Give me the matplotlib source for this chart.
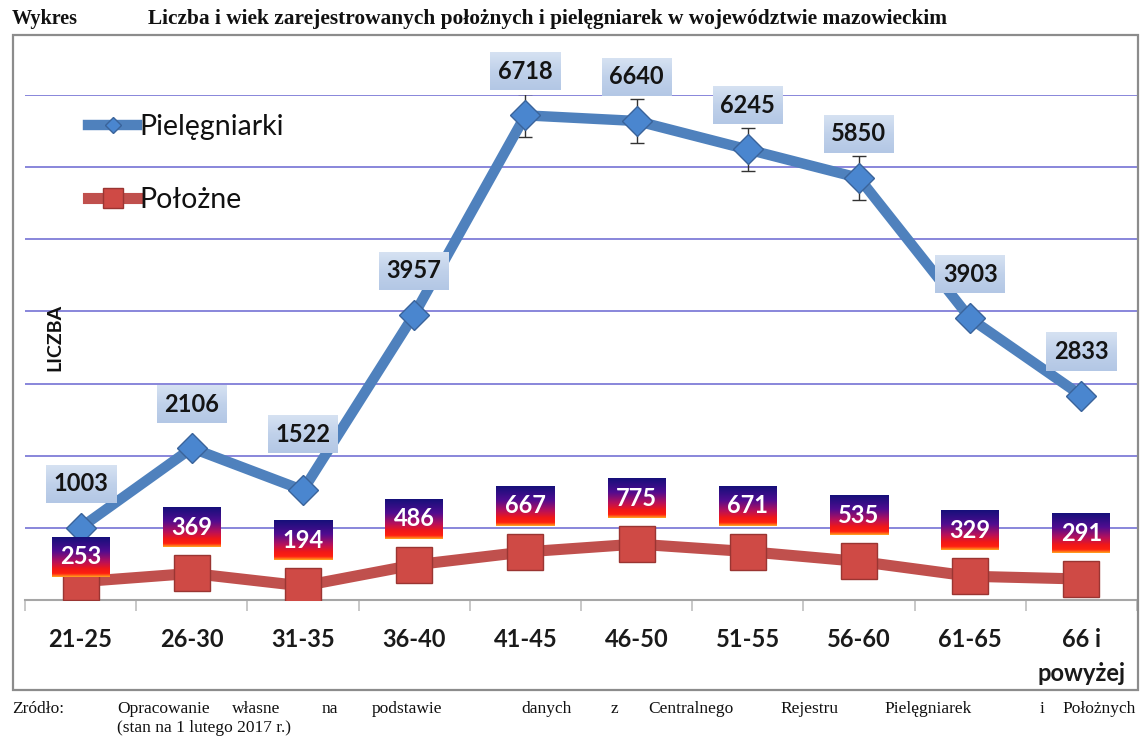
import numpy as np
import matplotlib
matplotlib.use("Agg")
import matplotlib.pyplot as plt
from matplotlib.colors import LinearSegmentedColormap
from matplotlib.patches import Rectangle

# data
age_groups = ["21-25", "26-30", "31-35", "36-40", "41-45", "46-50",
              "51-55", "56-60", "61-65", "66 i\npowyżej"]
nurses = [1003, 2106, 1522, 3957, 6718, 6640, 6245, 5850, 3903, 2833]
midwives = [253, 369, 194, 486, 667, 775, 671, 535, 329, 291]
nurses_err = [0, 0, 0, 0, 300, 300, 300, 300, 0, 0]

W, H = 1141, 748
DPI = 100
BLUE = "#4f81bd"
RED = "#c0504d"
GRID = "#7472d4"

plt.rcParams["font.family"] = ["Lato", "DejaVu Sans"]

fig = plt.figure(figsize=(W / DPI, H / DPI), dpi=DPI)
fig.patch.set_facecolor("white")

# outer frame of the chart
fig.patches.append(Rectangle((13 / W, 1 - 690 / H), (1138 - 13) / W, (690 - 35) / H,
                             transform=fig.transFigure, fill=False,
                             edgecolor="#8c8c8c", lw=1.6, zorder=0))

ax = fig.add_axes([25 / W, 1 - 600 / H, 1112 / W, 505 / H])
x = np.arange(len(age_groups))
ax.set_xlim(-0.5, len(age_groups) - 0.5)
ax.set_ylim(0, 7000)

ax.set_yticks(np.arange(1000, 7001, 1000))
ax.yaxis.grid(True, color=GRID, lw=1.2)
ax.set_axisbelow(True)
ax.tick_params(axis="y", left=False, labelleft=False)
for s in ["top", "left", "right"]:
    ax.spines[s].set_visible(False)
ax.spines["bottom"].set_color("#a6a6a6")
ax.spines["bottom"].set_linewidth(1.5)

ax.set_xticks(x)
ax.set_xticklabels(age_groups, fontsize=17, fontweight="bold", color="#1a1a1a")
ax.set_xticks(np.arange(-0.5, len(age_groups)), minor=True)
ax.tick_params(axis="x", which="major", length=0, pad=20)
ax.tick_params(axis="x", which="minor", length=8, color="#bfbfbf", width=1.2)
for lab in ax.get_xticklabels():
    lab.set_linespacing(1.6)

ax.text(0.027, 0.52, "LICZBA", transform=ax.transAxes, rotation=90,
        ha="center", va="center", fontsize=14, fontweight="bold", color="#111111")

# lines
ax.errorbar(x, nurses, yerr=nurses_err, fmt="none", ecolor="#333333",
            elinewidth=1, capsize=5, zorder=3)
ax.plot(x, nurses, color=BLUE, lw=7.5, marker="D", markersize=15,
        markerfacecolor="#4a86cf", markeredgecolor="#3a639a", markeredgewidth=1,
        solid_joinstyle="round", zorder=4, label="Pielęgniarki")
ax.plot(x, midwives, color=RED, lw=8, marker="s", markersize=26,
        markerfacecolor="#cf4a45", markeredgecolor="#9a3532", markeredgewidth=1,
        solid_joinstyle="round", zorder=4, label="Położne")

leg = ax.legend(loc="upper left", bbox_to_anchor=(37 / 1112, 1.013), frameon=False,
                fontsize=20.5, markerscale=0.55, handlelength=1.75, handletextpad=0.05,
                labelspacing=1.65)
for t in leg.get_texts():
    t.set_color("#111111")


def gradient_box(cx_px, cy_px, w_px, h_px, cmap, zorder):
    inv = ax.transData.inverted()
    x0, y0 = inv.transform((cx_px - w_px / 2, cy_px - h_px / 2))
    x1, y1 = inv.transform((cx_px + w_px / 2, cy_px + h_px / 2))
    grad = np.linspace(0, 1, 64).reshape(-1, 1)
    ax.imshow(grad, cmap=cmap, extent=[x0, x1, y0, y1], aspect="auto",
              interpolation="bilinear", zorder=zorder, clip_on=False)


blue_cmap = LinearSegmentedColormap.from_list("bl", ["#d6e2f2", "#c0d1ea", "#b3c7e5"])
red_cmap = LinearSegmentedColormap.from_list(
    "rd", [(0, "#16107a"), (0.35, "#500c90"), (0.62, "#b8105a"),
           (0.8, "#f01818"), (0.92, "#ff2010"), (1.0, "#ffa020")])

for i, v in enumerate(nurses):
    px, py = ax.transData.transform((i, v))
    off = 56 if i == 2 else 44
    gradient_box(px, py + off, 70, 38, blue_cmap, 5)
    ax.annotate(str(v), (i, v), xytext=(0, off), textcoords="offset pixels",
                ha="center", va="center", fontsize=17, fontweight="bold",
                color="#141414", zorder=6, annotation_clip=False)

for i, v in enumerate(midwives):
    px, py = ax.transData.transform((i, v))
    off = 25 if nurses[i] - v < 1000 else 46
    gradient_box(px, py + off, 58, 40, red_cmap, 5)
    ax.annotate(str(v), (i, v), xytext=(0, off), textcoords="offset pixels",
                ha="center", va="center", fontsize=17, fontweight="bold",
                color="white", zorder=6, annotation_clip=False)

ax.set_xlim(-0.5, len(age_groups) - 0.5)
ax.set_ylim(0, 7000)

# title and source
serif = ["Liberation Serif", "DejaVu Serif"]
fig.text(12 / W, 1 - 19 / H, "Wykres", family=serif, fontweight="bold",
         fontsize=14.5, va="center", ha="left", color="#111111")
fig.text(148 / W, 1 - 19 / H,
         "Liczba i wiek zarejestrowanych położnych i pielęgniarek w województwie mazowieckim",
         family=serif, fontweight="bold", fontsize=15.4, va="center", ha="left",
         color="#111111")

fig.text(12 / W, 1 - 709 / H, "Zródło:", family=serif, fontsize=12.5,
         va="center", ha="left", color="#111111")
words = ["Opracowanie", "własne", "na", "podstawie", "danych", "z",
         "Centralnego", "Rejestru", "Pielęgniarek", "i", "Położnych"]
word_x = [117, 232, 322, 372, 521, 611, 648, 780, 884, 1040, 1062]
for wd, wx in zip(words, word_x):
    fig.text(wx / W, 1 - 709 / H, wd, family=serif, fontsize=12.5,
             va="center", ha="left", color="#111111")
fig.text(117 / W, 1 - 728 / H, "(stan na 1 lutego 2017 r.)", family=serif,
         fontsize=12.5, va="center", ha="left", color="#111111")

fig.savefig("out.png", dpi=DPI, facecolor="white")
